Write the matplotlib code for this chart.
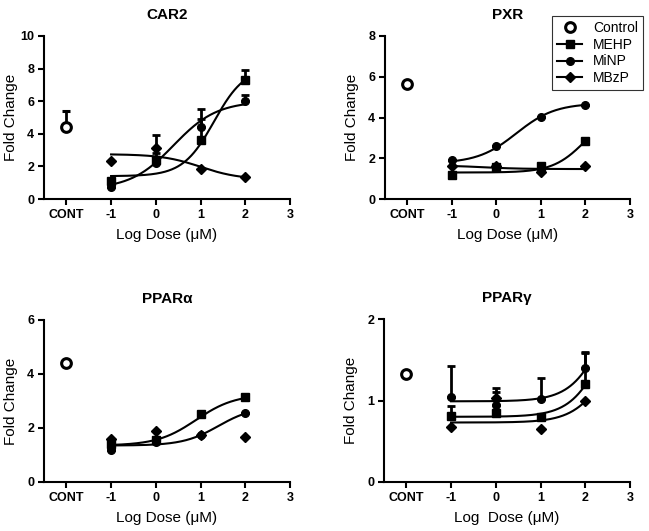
import numpy as np
import matplotlib
matplotlib.use("Agg")
import matplotlib.pyplot as plt
from matplotlib.lines import Line2D

plt.rcParams["font.family"] = ["Liberation Sans", "DejaVu Sans"]

DOSES = [-1, 0, 1, 2]
CONT_POS = -2
TICK_POS = [-2, -1, 0, 1, 2, 3]
TICK_LABELS = ["CONT", "-1", "0", "1", "2", "3"]
SERIES = ["MEHP", "MiNP", "MBzP"]
MARKERS = {"MEHP": "s", "MiNP": "o", "MBzP": "D"}

# CAR2
car2_ctrl, car2_ctrl_err = 4.4, 1.0
car2_mehp = [1.1, 2.4, 3.6, 7.3]
car2_mehp_err = [0, 0.4, 1.9, 0.6]
car2_minp = [0.75, 2.2, 4.4, 6.0]
car2_minp_err = [0, 0, 0.5, 0.35]
car2_mbzp = [2.35, 3.15, 1.85, 1.37]
car2_mbzp_err = [0, 0.8, 0, 0]
# 4PL fits: bottom, top, logEC50, hill
car2_fit = {"MEHP": [1.4, 8.1, 1.3, 1.25],
            "MiNP": [0.6, 6.0, 0.4, 0.9],
            "MBzP": [2.75, 1.2, 1.0, 1.0]}

# PXR
pxr_ctrl, pxr_ctrl_err = 5.62, 0.05
pxr_mehp = [1.16, 1.55, 1.63, 2.87]
pxr_minp = [1.91, 2.6, 4.03, 4.6]
pxr_mbzp = [1.63, 1.6, 1.33, 1.62]
pxr_fit = {"MEHP": [1.3, 4.4, 2.0, 1.2],
           "MiNP": [1.75, 4.7, 0.45, 1.0],
           "MBzP": [1.65, 1.47, -0.3, 1.0]}

# PPARalpha
ppara_ctrl, ppara_ctrl_err = 4.42, 0.05
ppara_mehp = [1.4, 1.55, 2.52, 3.15]
ppara_minp = [1.19, 1.5, 1.74, 2.55]
ppara_mbzp = [1.59, 1.89, 1.74, 1.67]
ppara_fit = {"MEHP": [1.35, 3.25, 0.9, 1.0],
             "MiNP": [1.35, 2.8, 1.4, 1.1]}

# PPARgamma
pparg_ctrl, pparg_ctrl_err = 1.32, 0.03
pparg_mehp = [0.81, 0.85, 0.8, 1.2]
pparg_mehp_err = [0.12, 0, 0, 0.38]
pparg_minp = [1.04, 0.95, 1.02, 1.4]
pparg_minp_err = [0.38, 0.2, 0.25, 0.2]
pparg_mbzp = [0.68, 1.03, 0.65, 0.99]
pparg_mbzp_err = [0, 0.08, 0, 0]
pparg_fit = {"MEHP": [0.8, 2.8, 2.56, 1.1],
             "MiNP": [0.99, 2.99, 2.56, 1.1],
             "MBzP": [0.73, 2.06, 2.56, 1.1]}


def fourpl(x, bottom, top, ec50, hill):
    return bottom + (top - bottom) / (1 + 10 ** ((ec50 - x) * hill))


def panel(ax, title, ctrl, ctrl_err, vals, errs, fits, ymax, yticks, xlabel):
    ax.errorbar([CONT_POS], [ctrl], yerr=[[0], [ctrl_err]], fmt="o",
                mfc="white", mec="black", mew=2.2, ms=7, ecolor="black",
                elinewidth=2, capsize=3, capthick=2, zorder=5)
    xs = np.linspace(-1, 2, 200)
    for name in SERIES:
        if name in fits:
            ax.plot(xs, fourpl(xs, *fits[name]), color="black", lw=1.5, zorder=3)
        err = errs.get(name, [0] * 4)
        ax.errorbar(DOSES, vals[name], yerr=[[0] * 4, err], fmt=MARKERS[name],
                    color="black", ms=5.5 if name != "MBzP" else 5,
                    elinewidth=2, capsize=3, capthick=2, zorder=4)
    ax.set_xlim(-2.5, 3)
    ax.set_ylim(0, ymax)
    ax.set_xticks(TICK_POS)
    ax.set_xticklabels(TICK_LABELS)
    ax.set_yticks(yticks)
    for s in ["top", "right"]:
        ax.spines[s].set_visible(False)
    for s in ["left", "bottom"]:
        ax.spines[s].set_linewidth(1.5)
    ax.tick_params(width=1.5, length=4, labelsize=9, pad=3)
    for lbl in ax.get_xticklabels() + ax.get_yticklabels():
        lbl.set_fontweight("bold")
    ax.set_title(title, fontsize=11, fontweight="bold", pad=12)
    ax.set_ylabel("Fold Change", fontsize=11)
    w_px = ax.get_position().width * W
    ax.yaxis.set_label_coords(-26 / w_px, 0.5)
    ax.set_xlabel(xlabel, fontsize=11, labelpad=5)


W, H = 649, 531
fig = plt.figure(figsize=(W / 100, H / 100), dpi=100)


def add_ax(l, r, t, b):
    return fig.add_axes([l / W, 1 - b / H, (r - l) / W, (b - t) / H])


ax1 = add_ax(44, 290, 36, 199)
ax2 = add_ax(385, 630, 36, 199)
ax3 = add_ax(44, 290, 320, 482)
ax4 = add_ax(384, 630, 319, 482)

panel(ax1, "CAR2", car2_ctrl, car2_ctrl_err,
      {"MEHP": car2_mehp, "MiNP": car2_minp, "MBzP": car2_mbzp},
      {"MEHP": car2_mehp_err, "MiNP": car2_minp_err, "MBzP": car2_mbzp_err},
      car2_fit, 10, [0, 2, 4, 6, 8, 10], "Log Dose (\u03bcM)")
panel(ax2, "PXR", pxr_ctrl, pxr_ctrl_err,
      {"MEHP": pxr_mehp, "MiNP": pxr_minp, "MBzP": pxr_mbzp}, {},
      pxr_fit, 8, [0, 2, 4, 6, 8], "Log Dose (\u03bcM)")
panel(ax3, "PPAR\u03b1", ppara_ctrl, ppara_ctrl_err,
      {"MEHP": ppara_mehp, "MiNP": ppara_minp, "MBzP": ppara_mbzp}, {},
      ppara_fit, 6, [0, 2, 4, 6], "Log Dose (\u03bcM)")
panel(ax4, "PPAR\u03b3", pparg_ctrl, pparg_ctrl_err,
      {"MEHP": pparg_mehp, "MiNP": pparg_minp, "MBzP": pparg_mbzp},
      {"MEHP": pparg_mehp_err, "MiNP": pparg_minp_err, "MBzP": pparg_mbzp_err},
      pparg_fit, 2, [0, 1, 2], "Log  Dose (\u03bcM)")

handles = [Line2D([], [], ls="none", marker="o", mfc="white", mec="black",
                  mew=2.2, ms=7)]
for name in SERIES:
    handles.append(Line2D([], [], color="black", lw=1.5, marker=MARKERS[name],
                          ms=5.5 if name != "MBzP" else 5))
leg = fig.legend(handles, ["Control"] + SERIES, loc="upper right",
                 bbox_to_anchor=(643 / W, 1 - 16 / H), fontsize=10,
                 frameon=True, fancybox=False, edgecolor="black",
                 borderaxespad=0, handlelength=1.8, labelspacing=0.2,
                 borderpad=0.35)
leg.get_frame().set_linewidth(0.8)

fig.savefig("out.png", dpi=100)
